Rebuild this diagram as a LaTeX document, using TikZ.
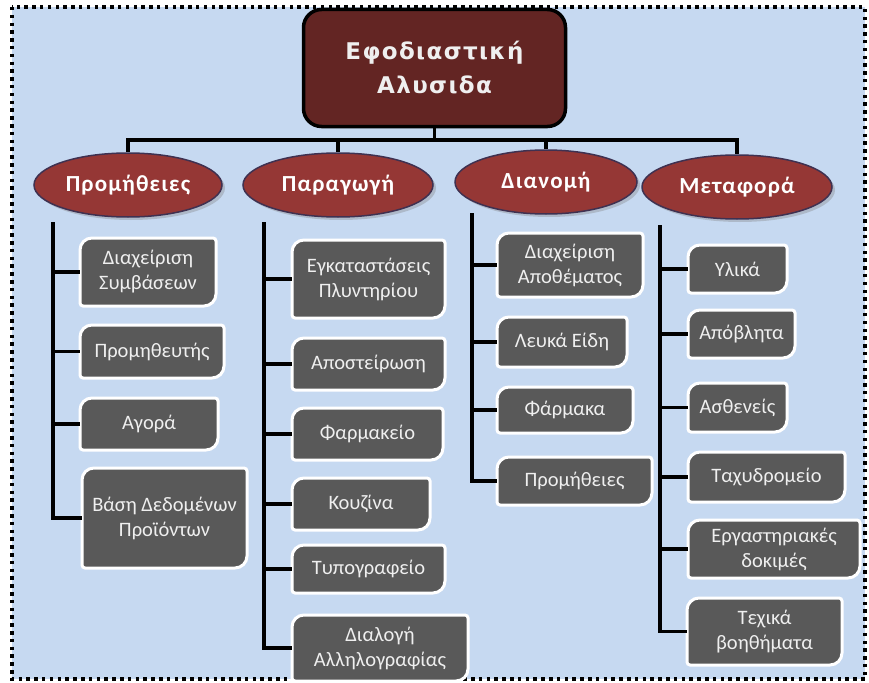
\documentclass[tikz,border=0pt]{standalone}
\usepackage{fontspec}
\setmainfont{Carlito}
\newfontfamily\titlefont[LetterSpace=6]{DejaVu Sans}
\newfontfamily\ellfont[LetterSpace=5]{Carlito}
\usetikzlibrary{shapes.geometric,shadows}
\definecolor{bgblue}{HTML}{C6D9F1}
\definecolor{boxgray}{HTML}{595959}
\definecolor{ellred}{HTML}{953735}
\definecolor{ellborder}{HTML}{3F3151}
\definecolor{titlered}{HTML}{632523}
\definecolor{txt}{HTML}{EFEFEF}
\tikzset{
  titlebox/.style={draw=black, line width=3.5pt, fill=titlered, rounded corners=18pt,
    minimum width=262pt, minimum height=117pt, align=center, text=txt,
    font=\titlefont\bfseries\fontsize{23}{34}\selectfont},
  ell/.style={ellipse, draw=ellborder, line width=1.5pt, fill=ellred,
    minimum height=64pt, inner sep=0pt, text=white,
    font=\ellfont\bfseries\fontsize{23}{24}\selectfont,
    drop shadow={opacity=0.35, shadow xshift=3pt, shadow yshift=-3pt}},
  gframe/.style={draw=white, line width=3pt, fill=boxgray},
  gtext/.style={inner sep=0pt, align=center, text=txt,
    font=\fontsize{20.5}{25}\selectfont},
  conn/.style={draw=black, line width=3.3pt},
  border/.style={draw=black, line width=3.5pt, dash pattern=on 3.5pt off 4.3pt}
}
\newcommand\gbox[6]{%
  \draw[gframe] (#2,#3+12) arc[start angle=180,end angle=270,radius=12]
    -- (#4-3,#3) arc[start angle=270,end angle=360,radius=3]
    -- (#4,#5-12) arc[start angle=0,end angle=90,radius=12]
    -- (#2+3,#5) arc[start angle=90,end angle=180,radius=3] -- cycle;
  \pgfmathsetmacro\gbw{#4-#2}%
  \pgfmathsetmacro\gbh{#5-#3}%
  \node[gtext, minimum width=\gbw pt, minimum height=\gbh pt]
    (#1) at ({(#2+#4)/2},{(#3+#5)/2}) {#6};
}
\begin{document}
\begin{tikzpicture}[x=1pt,y=-1pt]
\useasboundingbox (0,0) rectangle (869,682);
\fill[bgblue] (12,7) rectangle (865,679);
\draw[border] (12,7) rectangle (865,679);

% title
\node[titlebox] (title) at (434.5,68) {Εφοδιαστική\\Αλυσιδα};

% categories
\node[ell, minimum width=188pt] (e1) at (128,185) {Προμήθειες};
\node[ell, minimum width=190pt] (e2) at (338,185) {Παραγωγή};
\node[ell, minimum width=182pt] (e3) at (546,182) {Διανομή};
\node[ell, minimum width=190pt] (e4) at (737,187) {Μεταφορά};

\coordinate (bar) at (434.5,140);
\draw[conn] (title.south) -- (bar);
\draw[conn] (bar) -| (e1.north);
\draw[conn] (bar) -| (e2.north);
\draw[conn] (bar) -| (e3.north);
\draw[conn] (bar) -| (e4.north);

% column 1
\gbox{b11}{80}{238}{216}{306}{Διαχείριση\\Συμβάσεων}
\gbox{b12}{80}{325}{224}{378}{Προμηθευτής}
\gbox{b13}{80}{398}{218}{450}{Αγορά}
\gbox{b14}{82}{468}{247}{568}{Βάση Δεδομένων\\Προϊόντων}
% column 2
\gbox{b21}{292}{240}{445}{318}{Εγκαταστάσεις\\Πλυντηρίου}
\gbox{b22}{292}{338}{445}{390}{Αποστείρωση}
\gbox{b23}{292}{408}{443}{460}{Φαρμακείο}
\gbox{b24}{292}{478}{430}{530}{Κουζίνα}
\gbox{b25}{292}{545}{445}{593}{Τυπογραφείο}
\gbox{b26}{292}{615}{468}{681}{Διαλογή\\Αλληλογραφίας}
% column 3
\gbox{b31}{497}{233}{643}{297}{Διαχείριση\\Αποθέματος}
\gbox{b32}{497}{317}{627}{367}{Λευκά Είδη}
\gbox{b33}{497}{387}{633}{433}{Φάρμακα}
\gbox{b34}{497}{457}{652}{505}{Προμήθειες}
% column 4
\gbox{b41}{688}{245}{787}{293}{Υλικά}
\gbox{b42}{688}{310}{795}{358}{Απόβλητα}
\gbox{b43}{688}{383}{787}{432}{Ασθενείς}
\gbox{b44}{688}{452}{845}{502}{Ταχυδρομείο}
\gbox{b45}{688}{520}{860}{578}{Εργαστηριακές\\δοκιμές}
\gbox{b46}{687}{598}{842}{665}{Τεχικά\\βοηθήματα}

% trunks
\coordinate (t1) at (53,222);
\coordinate (t2) at (264,222);
\coordinate (t3) at (472,213);
\coordinate (t4) at (660,225);

\draw[conn] (t1) |- (b14.west);
\foreach \b in {b11,b12,b13} \draw[conn] (t1 |- \b.west) -- (\b.west);
\draw[conn] (t2) |- (b26.west);
\foreach \b in {b21,b22,b23,b24,b25} \draw[conn] (t2 |- \b.west) -- (\b.west);
\draw[conn] (t3) |- (b34.west);
\foreach \b in {b31,b32,b33} \draw[conn] (t3 |- \b.west) -- (\b.west);
\draw[conn] (t4) |- (b46.west);
\foreach \b in {b41,b42,b43,b44,b45} \draw[conn] (t4 |- \b.west) -- (\b.west);
\end{tikzpicture}
\end{document}
